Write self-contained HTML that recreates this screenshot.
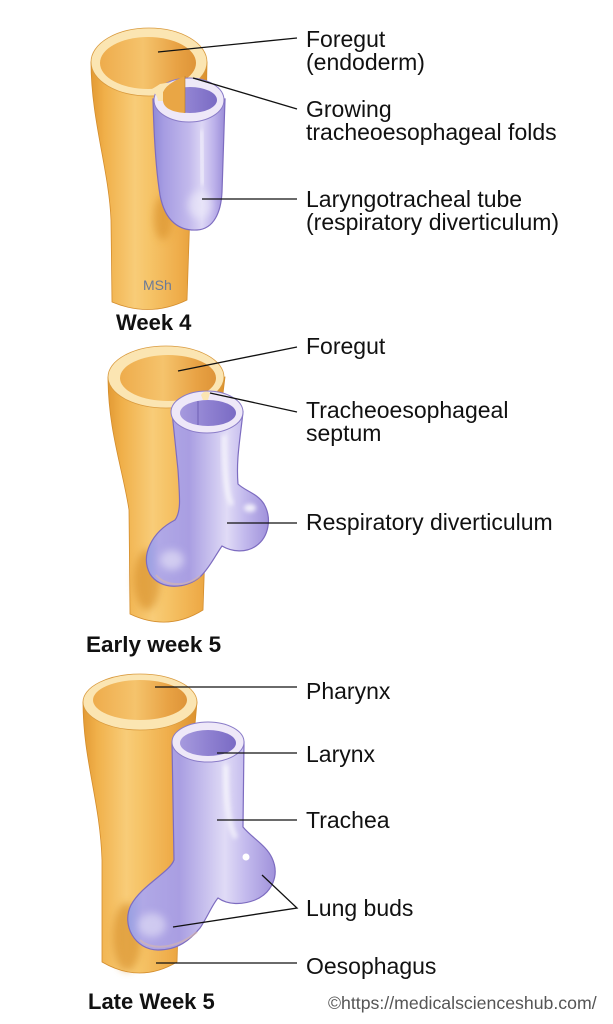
<!DOCTYPE html>
<html><head><meta charset="utf-8"><style>
html,body{margin:0;padding:0;background:#fff;}
svg{display:block;}
.t{font-family:"Liberation Sans",Arial,sans-serif;font-size:23px;fill:#111;}
.b{font-family:"Liberation Sans",Arial,sans-serif;font-size:22px;font-weight:bold;fill:#111;}
</style></head><body>
<svg width="613" height="1024" viewBox="0 0 613 1024" xmlns="http://www.w3.org/2000/svg">
<defs>
<linearGradient id="og" x1="0" y1="0" x2="1" y2="0">
<stop offset="0" stop-color="#e39a34"/><stop offset="0.12" stop-color="#f0b04a"/>
<stop offset="0.38" stop-color="#f8cc78"/><stop offset="0.5" stop-color="#f6c468"/>
<stop offset="0.78" stop-color="#eeab48"/><stop offset="1" stop-color="#dc922e"/>
</linearGradient>
<linearGradient id="oi" x1="0" y1="0" x2="1" y2="0">
<stop offset="0" stop-color="#eeac4c"/><stop offset="0.45" stop-color="#f5c36c"/>
<stop offset="0.8" stop-color="#e8a244"/><stop offset="1" stop-color="#de9438"/>
</linearGradient>
<linearGradient id="pg" x1="0" y1="0" x2="1" y2="0">
<stop offset="0" stop-color="#8f8ad8"/><stop offset="0.15" stop-color="#a69ce2"/>
<stop offset="0.5" stop-color="#c2b9ec"/><stop offset="0.68" stop-color="#dcd6f5"/>
<stop offset="0.85" stop-color="#bcb1ea"/><stop offset="1" stop-color="#9a8cd8"/>
</linearGradient>
<linearGradient id="pb" x1="0" y1="0" x2="1" y2="0">
<stop offset="0" stop-color="#98a0e2"/><stop offset="0.1" stop-color="#b0a8e6"/>
<stop offset="0.35" stop-color="#a99ee2"/><stop offset="0.55" stop-color="#ccc5ef"/>
<stop offset="0.66" stop-color="#e0dbf6"/><stop offset="0.8" stop-color="#c3baed"/>
<stop offset="1" stop-color="#a092db"/>
</linearGradient>
<linearGradient id="pi" x1="0" y1="0" x2="1" y2="0">
<stop offset="0" stop-color="#a69ade"/><stop offset="0.5" stop-color="#8f81d1"/>
<stop offset="1" stop-color="#7a6bc4"/>
</linearGradient>
<filter id="bl" x="-50%" y="-50%" width="200%" height="200%"><feGaussianBlur stdDeviation="4"/></filter>
<filter id="bl2" x="-50%" y="-50%" width="200%" height="200%"><feGaussianBlur stdDeviation="2"/></filter>
</defs>

<!-- WEEK 4 -->
<path d="M91,62 L207,62 L206,120 L190,210 L187,300 Q150,318 112,302 L111,220 C109,170 91,120 91,62 Z" fill="url(#og)" stroke="#d48d2c" stroke-width="0.8"/>
<ellipse cx="163" cy="218" rx="9" ry="22" fill="#d8902c" opacity="0.6" filter="url(#bl)"/>
<ellipse cx="149" cy="62" rx="58" ry="34" fill="#fbe5b2" stroke="#d99a3e" stroke-width="0.8"/>
<ellipse cx="148" cy="63" rx="48" ry="26" fill="url(#oi)"/>
<path d="M153,99 C154,140 156,170 160,195 C165,222 180,231 197,230 C214,229 221,212 222,192 L225,99 Z" fill="url(#pg)" stroke="#7d6cc0" stroke-width="1.2"/>
<ellipse cx="200" cy="205" rx="12" ry="14" fill="#f0eefb" opacity="0.6" filter="url(#bl)"/>
<path d="M201,130 L203,185" stroke="#fff" stroke-width="4" opacity="0.6" filter="url(#bl2)"/>
<ellipse cx="189" cy="100" rx="35" ry="22" fill="#eee8f8" stroke="#8a7cc8" stroke-width="1"/>
<ellipse cx="190" cy="100" rx="27" ry="13" fill="url(#pi)"/>
<path d="M163,100 C163,107 170,112 185,113 L185,76 C175,80 165,86 163,92 Z" fill="#e9a645"/>
<path d="M150,90 Q157,93 158,101 L163,101 L163,92 Q166,86 172,82 L160,84 Q154,88 150,90 Z" fill="#fbe5b2"/>
<line x1="185" y1="76" x2="185" y2="113" stroke="#b07a30" stroke-width="0.6"/>
<text x="143" y="290" font-family="Liberation Sans, Arial, sans-serif" font-size="14" fill="#6a7a98">MSh</text>

<!-- EARLY WEEK 5 -->
<path d="M108,377 L225,377 L216,450 L206,520 L203,610 Q168,632 130,614 L129,510 C123,470 108,430 108,377 Z" fill="url(#og)" stroke="#d48d2c" stroke-width="0.8"/>
<ellipse cx="147" cy="580" rx="13" ry="30" fill="#d8902c" opacity="0.65" filter="url(#bl)"/>
<ellipse cx="166" cy="377" rx="58" ry="31" fill="#fbe5b2" stroke="#d99a3e" stroke-width="0.8"/>
<ellipse cx="168" cy="378" rx="48" ry="23" fill="url(#oi)"/>
<path d="M172,412 L178,470 C180,500 181,512 175,520 C152,532 140,555 150,574 C160,590 186,590 201,576 C210,567 215,556 222,546 C232,552 246,553 256,546 C269,537 272,518 264,504 C257,493 245,491 238,484 C236,460 240,440 243,412 Z" fill="url(#pb)" stroke="#7d6cc0" stroke-width="1.2"/>
<path d="M156,575 C165,586 185,588 200,576" stroke="#d9b8a8" stroke-width="2" fill="none" opacity="0.6"/>
<path d="M224,435 C224,470 226,495 232,505" stroke="#fff" stroke-width="5" fill="none" opacity="0.65" filter="url(#bl2)"/>
<ellipse cx="250" cy="508" rx="6" ry="4" fill="#fff" opacity="0.8" filter="url(#bl2)"/>
<ellipse cx="172" cy="560" rx="12" ry="10" fill="#f0eefb" opacity="0.55" filter="url(#bl)"/>
<ellipse cx="207" cy="412" rx="36" ry="21" fill="#eee8f8" stroke="#8a7cc8" stroke-width="1"/>
<path d="M201,395 Q205,389 210,393 L208,400 L203,400 Z" fill="#fbe5b2"/>
<ellipse cx="208" cy="413" rx="28" ry="13" fill="url(#pi)"/>
<line x1="198" y1="401" x2="198" y2="425" stroke="#6f60b4" stroke-width="1"/>

<!-- LATE WEEK 5 -->
<path d="M83,702 L197,702 L190,780 L180,860 L177,962 Q140,984 102,962 L102,860 C100,800 83,760 83,702 Z" fill="url(#og)" stroke="#d48d2c" stroke-width="0.8"/>
<ellipse cx="127" cy="937" rx="14" ry="34" fill="#d8902c" opacity="0.65" filter="url(#bl)"/>
<ellipse cx="140" cy="702" rx="57" ry="28" fill="#fbe5b2" stroke="#d99a3e" stroke-width="0.8"/>
<ellipse cx="140" cy="700" rx="47" ry="20" fill="url(#oi)"/>
<path d="M172,742 L174,860 C170,872 142,885 131,905 C121,925 135,950 158,950 C178,950 190,940 200,928 C207,918 212,905 218,898 C228,905 242,905 255,900 C272,893 280,875 272,858 C266,845 252,838 243,827 L244,742 Z" fill="url(#pb)" stroke="#7d6cc0" stroke-width="1.2"/>
<path d="M140,940 C150,950 175,950 197,932" stroke="#d9b8a8" stroke-width="2" fill="none" opacity="0.6"/>
<path d="M226,765 C226,800 228,825 236,838" stroke="#fff" stroke-width="5" fill="none" opacity="0.65" filter="url(#bl2)"/>
<circle cx="246" cy="857" r="3.5" fill="#fff"/>
<ellipse cx="152" cy="925" rx="14" ry="12" fill="#f0eefb" opacity="0.5" filter="url(#bl)"/>
<ellipse cx="208" cy="742" rx="36" ry="20" fill="#eee8f8" stroke="#8a7cc8" stroke-width="1"/>
<ellipse cx="208" cy="743" rx="28" ry="13" fill="url(#pi)"/>

<!-- leader lines -->
<g stroke="#111" stroke-width="1.3" fill="none">
<line x1="158" y1="52" x2="297" y2="38"/>
<line x1="193" y1="78" x2="297" y2="109"/>
<line x1="202" y1="199" x2="297" y2="199"/>
<line x1="178" y1="371" x2="297" y2="347"/>
<line x1="210" y1="393" x2="297" y2="412"/>
<line x1="227" y1="523" x2="297" y2="523"/>
<line x1="155" y1="687" x2="297" y2="687"/>
<line x1="217" y1="753" x2="297" y2="753"/>
<line x1="217" y1="820" x2="297" y2="820"/>
<polyline points="262,875 297,908 173,927"/>
<line x1="156" y1="963" x2="297" y2="963"/>
</g>

<!-- labels -->
<text class="t" x="306" y="47">Foregut</text>
<text class="t" x="306" y="70">(endoderm)</text>
<text class="t" x="306" y="117">Growing</text>
<text class="t" x="306" y="140">tracheoesophageal folds</text>
<text class="t" x="306" y="207">Laryngotracheal tube</text>
<text class="t" x="306" y="230">(respiratory diverticulum)</text>
<text class="t" x="306" y="354">Foregut</text>
<text class="t" x="306" y="418">Tracheoesophageal</text>
<text class="t" x="306" y="441">septum</text>
<text class="t" x="306" y="530">Respiratory diverticulum</text>
<text class="t" x="306" y="699">Pharynx</text>
<text class="t" x="306" y="762">Larynx</text>
<text class="t" x="306" y="828">Trachea</text>
<text class="t" x="306" y="916">Lung buds</text>
<text class="t" x="306" y="974">Oesophagus</text>

<text class="b" x="116" y="330">Week 4</text>
<text class="b" x="86" y="652" style="font-size:22.5px">Early week 5</text>
<text class="b" x="88" y="1009">Late Week 5</text>

<text x="328" y="1009" font-family="Liberation Sans, Arial, sans-serif" font-size="17.7" fill="#555">©https://medicalscienceshub.com/</text>
</svg>
</body></html>
